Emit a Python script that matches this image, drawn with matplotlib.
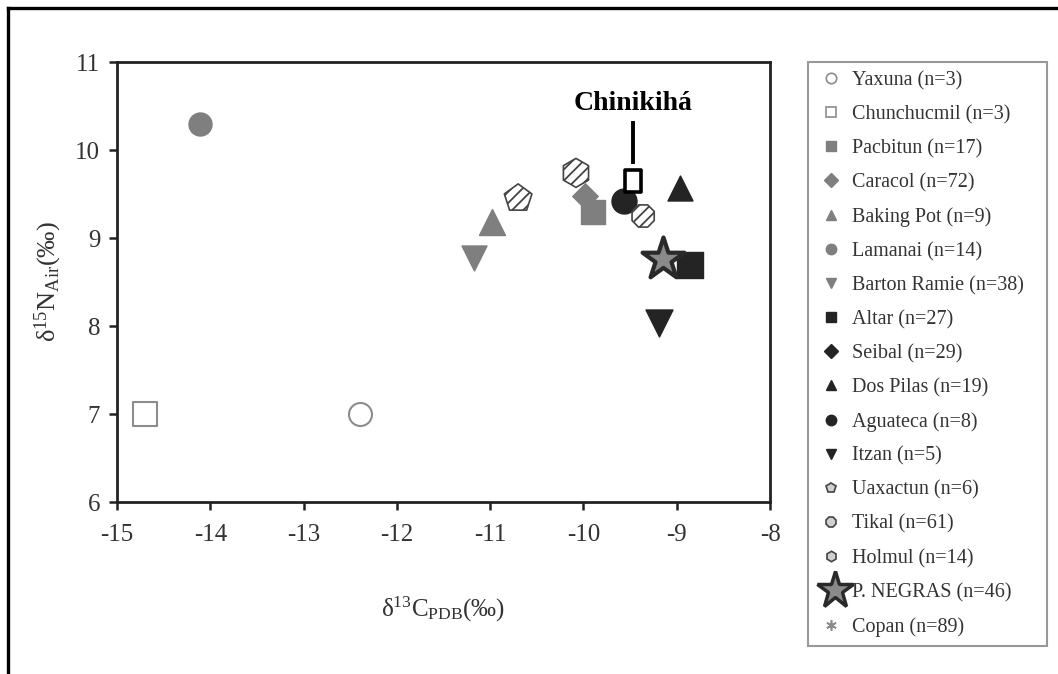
import matplotlib
matplotlib.use("Agg")
import matplotlib.pyplot as plt
from matplotlib.lines import Line2D
from matplotlib.path import Path

plt.rcParams['font.family'] = ['Liberation Serif', 'DejaVu Serif']
plt.rcParams['mathtext.default'] = 'regular'
plt.rcParams['axes.unicode_minus'] = False
plt.rcParams['hatch.color'] = '#9a9a9a'
plt.rcParams['hatch.linewidth'] = 1.3

# === data ===
sites = ['Yaxuna', 'Chunchucmil', 'Pacbitun', 'Caracol', 'Baking Pot', 'Lamanai',
         'Barton Ramie', 'Altar', 'Seibal', 'Dos Pilas', 'Aguateca', 'Itzan',
         'Uaxactun', 'Tikal', 'Holmul', 'P. NEGRAS', 'Copan']
n_samples = [3, 3, 17, 72, 9, 14, 38, 27, 29, 19, 8, 5, 6, 61, 14, 46, 89]
d13c = [-12.40, -14.70, -9.90, -9.98, -10.98, -14.11, -11.17, -8.86, -9.56,
        -8.97, -9.56, -9.19, -10.70, -9.36, -10.08, -9.15, -9.18]
d15n = [7.00, 7.00, 9.30, 9.48, 9.18, 10.30, 8.77, 8.69, 9.42, 9.57, 9.42,
        8.03, 9.45, 9.25, 9.74, 8.76, 7.49]

chinikiha_c = -9.47
chinikiha_n = 9.65

# === marker styles (marker, size px, face, edge, lw, hatch) ===
GRAY = '#7f7f7f'
DARK = '#242424'
styles = {
    'Yaxuna':       ('o', 23, 'white', '#8c8c8c', 1.5, None),
    'Chunchucmil':  ('s', 24, 'white', '#8c8c8c', 1.5, None),
    'Pacbitun':     ('s', 24, GRAY, GRAY, 1.0, None),
    'Caracol':      ('D', 18, GRAY, GRAY, 1.0, None),
    'Baking Pot':   ('^', 26, GRAY, GRAY, 1.0, None),
    'Lamanai':      ('o', 23, GRAY, GRAY, 1.0, None),
    'Barton Ramie': ('v', 25, GRAY, GRAY, 1.0, None),
    'Altar':        ('s', 26, DARK, DARK, 1.0, None),
    'Seibal':       ('D', 16, DARK, DARK, 1.0, None),
    'Dos Pilas':    ('^', 25, DARK, DARK, 1.0, None),
    'Aguateca':     ('o', 25, DARK, DARK, 1.0, None),
    'Itzan':        ('v', 27, DARK, DARK, 1.0, None),
    'Uaxactun':     ('p', 29, 'white', '#444444', 1.2, '///'),
    'Tikal':        ('8', 24, 'white', '#444444', 1.2, '///'),
    'Holmul':       ('h', 29, 'white', '#444444', 1.2, '///'),
    'P. NEGRAS':    ('*', 44, '#8a8a8a', '#2a2a2a', 3.0, None),
    'Copan':        ((6, 2, 0), 27, 'none', '#8a8a8a', 1.3, None),
}
draw_order = ['Yaxuna', 'Chunchucmil', 'Lamanai', 'Barton Ramie', 'Baking Pot',
              'Uaxactun', 'Caracol', 'Pacbitun', 'Holmul', 'Seibal', 'Aguateca',
              'Tikal', 'Dos Pilas', 'Altar', 'P. NEGRAS', 'Itzan', 'Copan']

fig = plt.figure(figsize=(10.58, 6.74), dpi=100)
ax = fig.add_axes([117/1058, 1-502/674, (770-117)/1058, (502-62)/674])

px = 72/100
for name in draw_order:
    i = sites.index(name)
    m, size, fc, ec, lw, hatch = styles[name]
    ax.scatter([d13c[i]], [d15n[i]], marker=m, s=(size*px)**2, facecolors=fc,
               edgecolors=ec, linewidths=lw, hatch=hatch, zorder=3)

# Chinikihá: tall open rectangle with a pointer line and bold label
rect = Path([(-0.38, -0.5), (0.38, -0.5), (0.38, 0.5), (-0.38, 0.5), (-0.38, -0.5)],
            [Path.MOVETO, Path.LINETO, Path.LINETO, Path.LINETO, Path.CLOSEPOLY])
ax.scatter([chinikiha_c], [chinikiha_n], marker=rect, s=(22*px)**2, facecolors='white',
           edgecolors='black', linewidths=2.6, zorder=4)
ax.plot([chinikiha_c, chinikiha_c], [9.86, 10.31], color='black', lw=2.8, zorder=4)
ax.text(chinikiha_c, 10.45, 'Chinikihá', ha='center', va='baseline',
        fontsize=20, fontweight='bold', color='black')

ax.set_xlim(-15, -8)
ax.set_ylim(6, 11)
ax.set_xticks(range(-15, -7))
ax.set_yticks(range(6, 12))
ax.tick_params(direction='out', length=6, width=1.8, labelsize=18,
               labelcolor='#333333', color='#222222', pad=6)
ax.tick_params(axis='x', pad=10)
for sp in ax.spines.values():
    sp.set_linewidth(2.0)
    sp.set_color('#222222')

ax.set_xlabel('δ$^{13}$C$_{PDB}$(‰)', fontsize=18, color='#333333', labelpad=35)
ax.set_ylabel('δ$^{15}$N$_{Air}$(‰)', fontsize=19, color='#333333', labelpad=8)

# === legend ===
handles = []
for name in sites:
    m, size, fc, ec, lw, hatch = styles[name]
    ms = 7.5
    mew = min(lw, 1.2)
    if name == 'P. NEGRAS':
        mew = 0   # placeholder, big star is drawn on top below
        fc = ec = 'none'
    if hatch is not None:
        fc = '#d0d0d0'
    handles.append(Line2D([], [], linestyle='none', marker=m, markersize=ms,
                          markerfacecolor=fc, markeredgecolor=ec,
                          markeredgewidth=mew))
labels = [f'{s} (n={n})' for s, n in zip(sites, n_samples)]
leg = fig.legend(handles, labels, loc='upper left',
                 bbox_to_anchor=(808/1058, 1-645/674, (1047-808)/1058, (645-62)/674),
                 bbox_transform=fig.transFigure, mode='expand', borderaxespad=0,
                 fontsize=14.5, frameon=True, fancybox=False, handlelength=1.4,
                 handletextpad=0.35, borderpad=0.45, labelspacing=0.735)
leg.get_frame().set_edgecolor('#808080')
leg.get_frame().set_linewidth(1.5)
for t in leg.get_texts():
    t.set_color('#333333')

# big star for P. NEGRAS in the legend, overflowing the box like the original
fig.canvas.draw()
h = leg.legend_handles[sites.index('P. NEGRAS')]
pts = h.get_transform().transform(h.get_xydata())
sx, sy = pts[:, 0].mean(), pts[:, 1].mean()
fx, fy = fig.transFigure.inverted().transform((sx + 4, sy))
fig.add_artist(Line2D([fx], [fy], transform=fig.transFigure, linestyle='none',
                      marker='*', markersize=28, markerfacecolor='#8a8a8a',
                      markeredgecolor='#2a2a2a', markeredgewidth=2.5, zorder=10))

# outer frame (top and left visible)
fig.add_artist(Line2D([8/1058, 1.0], [1-8/674, 1-8/674], transform=fig.transFigure,
                      color='black', lw=2.4))
fig.add_artist(Line2D([8/1058, 8/1058], [1-8/674, 0.0], transform=fig.transFigure,
                      color='black', lw=2.4))

fig.savefig('out.png', dpi=100)
